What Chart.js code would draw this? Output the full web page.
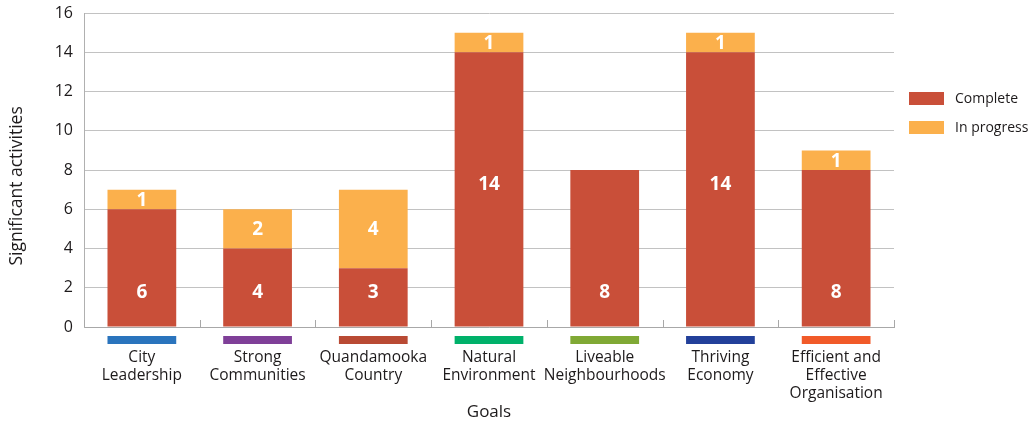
<!DOCTYPE html>
<html>
<head>
<meta charset="utf-8">
<title>Significant activities by goal</title>
<script src="https://cdn.jsdelivr.net/npm/chart.js@4.4.1/dist/chart.umd.min.js"></script>
<style>
  html, body { margin: 0; padding: 0; background: #fff; }
  #wrap { width: 1030px; height: 425px; position: relative; }
</style>
</head>
<body>
<div id="wrap"><canvas id="goalsChart"></canvas></div>
<script>
// Datos
const goals = [
    ['City', 'Leadership'],
    ['Strong', 'Communities'],
    ['Quandamooka', 'Country'],
    ['Natural', 'Environment'],
    ['Liveable', 'Neighbourhoods'],
    ['Thriving', 'Economy'],
    ['Efficient and', 'Effective', 'Organisation']
];
const complete = [6, 4, 3, 14, 8, 14, 8];
const inProgress = [1, 2, 4, 1, 0, 1, 1];
const yTicks = [0, 2, 4, 6, 8, 10, 12, 14, 16];

const goalColours = ['#2a74bd', '#7f3f98', '#b94a34', '#00b16a', '#80a935', '#22409a', '#f15a29'];
const FONT = '"Open Sans", sans-serif';
const TEXT = '#1d1a1b';
const GRID = '#c2c2c2';

// Etiquetas blancas dentro de cada tramo
const valueLabels = {
    id: 'valueLabels',
    afterDatasetsDraw(chart) {
        const ctx = chart.ctx;
        ctx.save();
        ctx.fillStyle = '#fff';
        ctx.font = 'bold 19px ' + FONT;
        ctx.textAlign = 'center';
        ctx.textBaseline = 'middle';
        chart.data.datasets.forEach((ds, di) => {
            chart.getDatasetMeta(di).data.forEach((bar, i) => {
                const v = ds.data[i];
                if (!v) return;
                let y = (bar.y + bar.base) / 2;
                if (di === 0) y = v < 10 ? bar.base - 35 : y - 6;
                ctx.fillText(String(v), bar.x, y + 1);
            });
        });
        ctx.restore();
    }
};

// Franjas de color de cada objetivo y marcas del eje X
const goalStrips = {
    id: 'goalStrips',
    afterDraw(chart) {
        const ctx = chart.ctx;
        const area = chart.chartArea;
        ctx.save();
        chart.getDatasetMeta(0).data.forEach((bar, i) => {
            ctx.fillStyle = goalColours[i];
            ctx.fillRect(bar.x - bar.width / 2, area.bottom + 9, bar.width, 8);
        });
        ctx.strokeStyle = '#a8a8a8';
        ctx.lineWidth = 1;
        const step = (area.right - area.left) / goals.length;
        for (let k = 0; k <= goals.length; k++) {
            const px = Math.round(area.left + k * step) + 0.5;
            ctx.beginPath();
            ctx.moveTo(px, area.bottom - 7);
            ctx.lineTo(px, area.bottom);
            ctx.stroke();
        }
        ctx.restore();
    }
};

// Leyenda a la derecha
const sideLegend = {
    id: 'sideLegend',
    afterDraw(chart) {
        const ctx = chart.ctx;
        ctx.save();
        ctx.font = '14px ' + FONT;
        ctx.textBaseline = 'middle';
        chart.data.datasets.forEach((ds, i) => {
            const cy = 98 + i * 29;
            ctx.fillStyle = ds.backgroundColor;
            ctx.fillRect(909, cy - 6, 35, 13);
            ctx.fillStyle = TEXT;
            ctx.fillText(ds.label, 955, cy + 1);
        });
        ctx.restore();
    }
};

new Chart(document.getElementById('goalsChart'), {
    type: 'bar',
    data: {
        labels: goals,
        datasets: [
            { label: 'Complete', data: complete, backgroundColor: '#c94f39' },
            { label: 'In progress', data: inProgress, backgroundColor: '#fbb04c' }
        ]
    },
    options: {
        responsive: true,
        maintainAspectRatio: false,
        animation: false,
        layout: { padding: { top: 0, right: 136, bottom: 0, left: 0 } },
        datasets: { bar: { categoryPercentage: 0.6, barPercentage: 0.99 } },
        plugins: {
            legend: { display: false },
            tooltip: { enabled: false }
        },
        scales: {
            x: {
                stacked: true,
                grid: { display: false, drawTicks: false },
                border: { display: true, color: '#a8a8a8' },
                ticks: { color: TEXT, font: { family: FONT, size: 15.5, lineHeight: 1.16 }, padding: 22, maxRotation: 0, autoSkip: false },
                title: { display: true, text: 'Goals', color: TEXT, font: { family: FONT, size: 17 }, padding: { top: 0, bottom: 3 } },
                afterFit(scale) { scale.height = 98; }
            },
            y: {
                stacked: true,
                min: 0,
                max: 16,
                grid: { color: GRID, drawTicks: false },
                border: { display: true, color: '#b0b0b0' },
                afterBuildTicks(scale) { scale.ticks = yTicks.map(v => ({ value: v })); },
                ticks: { color: TEXT, font: { family: FONT, size: 16 }, padding: 11 },
                // espacios finales para bajar un poco el título
                title: { display: true, text: 'Significant activities       ', color: TEXT, font: { family: FONT, size: 17.5 }, padding: { top: 7, bottom: 0 } },
                afterFit(scale) {
                    scale.width = 84;
                    scale.paddingTop = 13;
                    scale.paddingBottom = 0;
                }
            }
        }
    },
    plugins: [valueLabels, goalStrips, sideLegend]
});
</script>
</body>
</html>
